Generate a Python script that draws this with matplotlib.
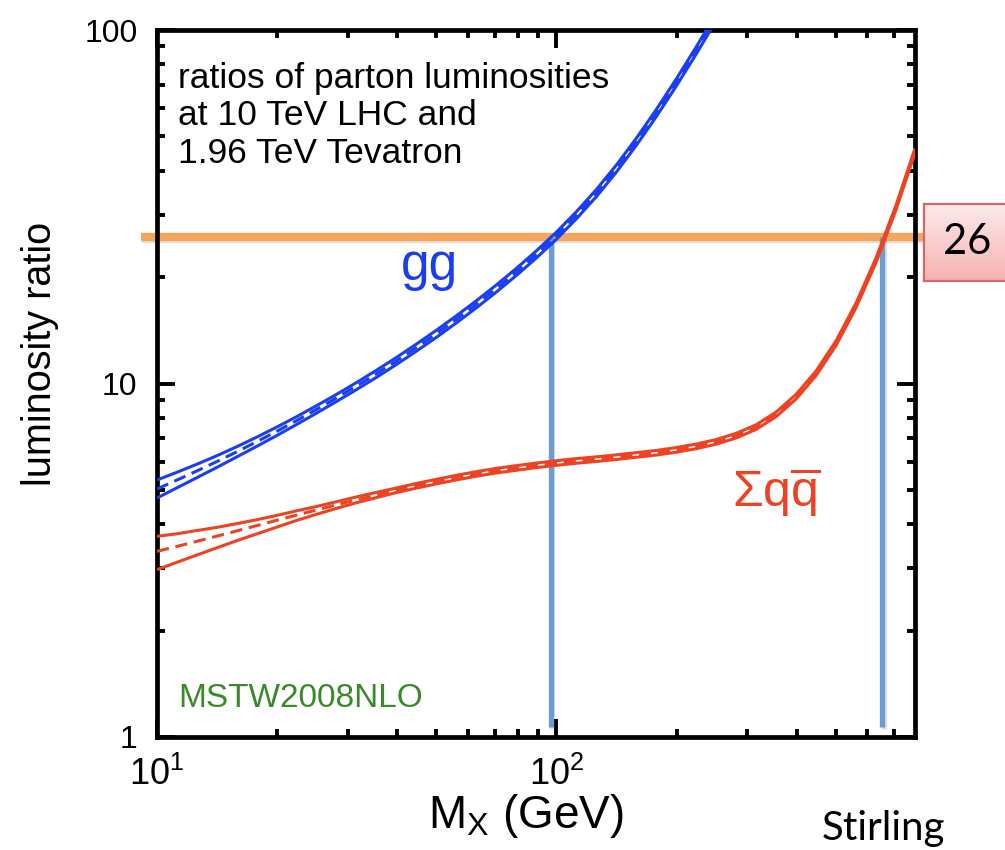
import matplotlib.pyplot as plt
import matplotlib.patheffects as pe
import numpy as np

# invariant mass grid (GeV), evenly spaced in log10 M
mass = [10, 11.22, 12.59, 14.13, 15.85, 17.78, 19.95, 22.39, 25.12, 28.18,
        31.62, 35.48, 39.81, 44.67, 50.12, 56.23, 63.10, 70.79, 79.43, 89.13,
        100, 112.2, 125.9, 141.3, 158.5, 177.8, 199.5, 223.9, 251.2, 281.8,
        316.2, 354.8, 398.1, 446.7, 501.2, 562.3, 631.0, 707.9, 790]

# gg luminosity ratio LHC(10 TeV) / Tevatron(1.96 TeV), MSTW2008NLO (runs off the top after 250 GeV)
gg_central = [5.030, 5.332, 5.659, 6.016, 6.411, 6.845, 7.325, 7.859, 8.455, 9.112,
              9.843, 10.66, 11.59, 12.65, 13.84, 15.21, 16.77, 18.58, 20.70, 23.20,
              26.20, 29.92, 34.58, 40.56, 48.28, 58.20, 71.03, 87.58, 108.9]
gg_upper = [5.334, 5.609, 5.912, 6.249, 6.628, 7.053, 7.530, 8.061, 8.662, 9.324,
            10.07, 10.91, 11.86, 12.94, 14.16, 15.56, 17.16, 19.02, 21.18, 23.74,
            26.81, 30.62, 35.39, 41.51, 49.40, 59.56, 72.68, 89.62, 111.4]
gg_lower = [4.743, 5.069, 5.417, 5.792, 6.201, 6.643, 7.125, 7.663, 8.253, 8.904,
            9.619, 10.42, 11.33, 12.36, 13.52, 14.86, 16.39, 18.16, 20.23, 22.67,
            25.60, 29.24, 33.79, 39.64, 47.18, 56.87, 69.41, 85.58, 106.4]

# sum over q qbar
qq_central = [3.351, 3.461, 3.577, 3.700, 3.829, 3.964, 4.103, 4.245, 4.391, 4.539,
              4.689, 4.838, 4.988, 5.137, 5.282, 5.420, 5.550, 5.667, 5.772, 5.869,
              5.956, 6.036, 6.112, 6.192, 6.277, 6.374, 6.489, 6.636, 6.837, 7.118,
              7.531, 8.179, 9.179, 10.69, 13.01, 16.64, 22.31, 31.43, 45.58]
qq_upper = [3.695, 3.758, 3.838, 3.918, 4.014, 4.118, 4.235, 4.365, 4.491, 4.631,
            4.779, 4.922, 5.065, 5.217, 5.359, 5.501, 5.633, 5.755, 5.857, 5.958,
            6.049, 6.131, 6.202, 6.283, 6.374, 6.466, 6.587, 6.740, 6.943, 7.227,
            7.643, 8.303, 9.318, 10.85, 13.21, 16.89, 22.64, 31.90, 46.28]
qq_lower = [2.975, 3.121, 3.272, 3.430, 3.593, 3.754, 3.924, 4.101, 4.267, 4.436,
            4.601, 4.758, 4.915, 5.063, 5.201, 5.339, 5.467, 5.585, 5.683, 5.782,
            5.871, 5.949, 6.018, 6.097, 6.186, 6.274, 6.393, 6.540, 6.737, 7.013,
            7.417, 8.057, 9.042, 10.53, 12.81, 16.39, 21.98, 30.96, 44.92]

# the ratio level marked across the plot and where each channel reaches it
ratio_level = 26
crossing_mass = [97, 655]

plt.rcParams['font.family'] = ['Liberation Sans', 'DejaVu Sans']
plt.rcParams['mathtext.fontset'] = 'custom'
plt.rcParams['mathtext.rm'] = 'Liberation Sans'
plt.rcParams['mathtext.it'] = 'Liberation Sans:italic'

BLUE = '#1a3ef2'
RED = '#ef4222'

fig = plt.figure(figsize=(10.05, 8.5), dpi=100)
ax = fig.add_axes([157 / 1005, 1 - 737 / 850, 758 / 1005, 707 / 850])
ax.set_xscale('log')
ax.set_yscale('log')
ax.set_xlim(10, 790)
ax.set_ylim(1, 100)

lw = 2.2
dash = (0, (4.0, 2.2))
bands = [(gg_upper, gg_central, gg_lower, BLUE),
         (qq_upper, qq_central, qq_lower, RED)]
for upper, central, lower, col in bands:
    m = mass[:len(central)]
    ax.plot(m, upper, color=col, lw=lw, zorder=4, solid_capstyle='butt')
    ax.plot(m, lower, color=col, lw=lw, zorder=4, solid_capstyle='butt')
    ax.plot(m, central, color=col, lw=lw, ls=dash, zorder=4)

shadow = [pe.SimpleLineShadow(offset=(0.8, -1.6), shadow_color='k', alpha=0.12), pe.Normal()]
ax.hlines(ratio_level, 9.1, 830, color='#f5a65b', lw=6, clip_on=False, zorder=2,
          path_effects=shadow)
ax.vlines(crossing_mass, 1.07, ratio_level, color='#6a9bd1', lw=3.8, zorder=3,
          path_effects=shadow)

# thick frame, inward ticks on all four sides
for s in ax.spines.values():
    s.set_linewidth(3.4)
ax.tick_params(which='both', direction='in', top=True, right=True, width=2.8)
ax.tick_params(which='major', length=13)
ax.tick_params(which='minor', length=6)
ax.tick_params(axis='y', which='major', labelsize=23, pad=14)
ax.tick_params(axis='x', which='major', labelsize=26, pad=14)
ax.set_yticks([1, 10, 100])
ax.set_yticklabels(['1', '10', '100'])
ax.set_xticks([10, 100])
ax.set_xticklabels([r'$\mathregular{10^{1}}$', r'$\mathregular{10^{2}}$'])

ax.text(0.028, 0.955, 'ratios of parton luminosities\nat 10 TeV LHC and\n1.96 TeV Tevatron',
        transform=ax.transAxes, va='top', ha='left', fontsize=25.5, linespacing=1.18)
ax.text(48, 19.6, 'gg', color=BLUE, fontsize=37, ha='center', va='baseline')
ax.text(355, 4.47, r'$\mathrm{\Sigma q\overline{q}}$', color=RED, fontsize=36,
        ha='center', va='baseline')
ax.text(0.028, 0.042, 'MSTW2008NLO', transform=ax.transAxes, color='#3b8a2a',
        fontsize=24, ha='left', va='baseline')

fig.text(40 / 1005, 1 - 354 / 850, 'luminosity ratio', rotation=90, fontsize=28.5,
         ha='center', va='center')
fig.text(526 / 1005, 1 - 828 / 850, r'M$_\mathregular{X}$ (GeV)', fontsize=33,
         ha='center', va='baseline')
fig.text(945 / 1005, 1 - 840 / 850, 'Stirling', family=['Lato', 'DejaVu Sans'],
         fontsize=29, ha='right', va='baseline')

# value tag at the end of the level line
tag = fig.add_axes([924 / 1005, 1 - 281 / 850, 0.1, 77 / 850])
grad = np.linspace(0, 1, 64)[:, None, None]
top_c = np.array([253, 234, 234]) / 255
bot_c = np.array([247, 178, 178]) / 255
tag.imshow(top_c + (bot_c - top_c) * grad, aspect='auto', extent=(0, 1, 0, 1), origin='upper')
tag.set_xticks([])
tag.set_yticks([])
for s in tag.spines.values():
    s.set_color('#d36868')
    s.set_linewidth(1.6)
tag.text(43 / 100.5, 0.5, str(ratio_level), family=['Lato', 'DejaVu Sans'], fontsize=30,
         ha='center', va='center', transform=tag.transAxes)

fig.savefig('out.png', dpi=100)
